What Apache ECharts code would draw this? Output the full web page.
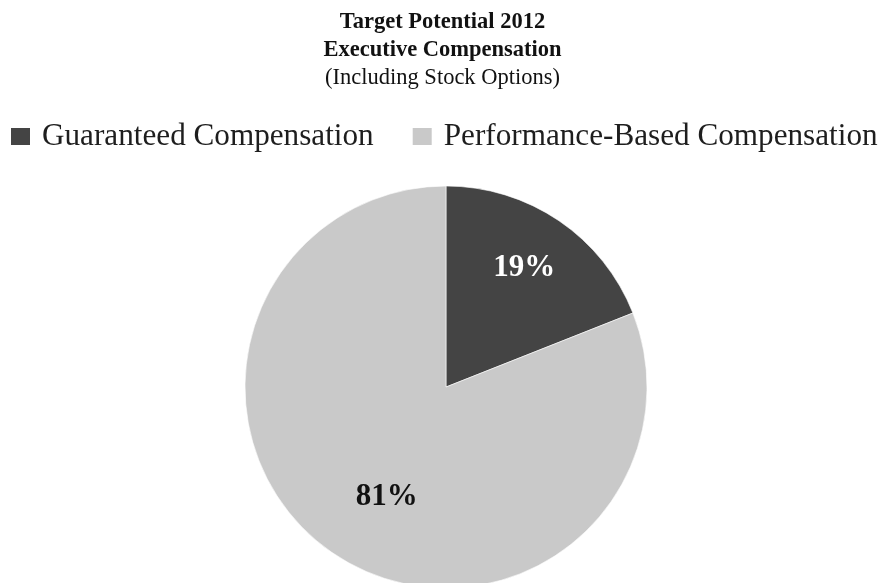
<!DOCTYPE html>
<html>
<head>
<meta charset="utf-8">
<script src="https://cdn.jsdelivr.net/npm/echarts@6/dist/echarts.min.js"></script>
<style>
html,body{margin:0;padding:0;background:#fff;}
#chart{width:885px;height:583px;}
</style>
</head>
<body>
<div id="chart"></div>
<script>
const titleLines = ['Target Potential 2012', 'Executive Compensation', '(Including Stock Options)'];
const categories = ['Guaranteed Compensation', 'Performance-Based Compensation'];
const values = [19, 81];
const colors = ['#444444', '#c9c9c9'];
const labelColors = ['#ffffff', '#111111'];
const labelShift = [[20, -33], [-1, 24]];

const chart = echarts.init(document.getElementById('chart'), null, {renderer: 'canvas'});
const FONT = '"Liberation Serif", "Times New Roman", serif';

chart.setOption({
  animation: false,
  backgroundColor: '#ffffff',
  title: {
    left: 'center',
    top: 3,
    text: '{b|' + titleLines[0] + '}\n{b|' + titleLines[1] + '}\n{n|' + titleLines[2] + '}',
    textStyle: {
      rich: {
        b: {fontFamily: FONT, fontSize: 22.5, fontWeight: 'bold', color: '#111', lineHeight: 28},
        n: {fontFamily: FONT, fontSize: 22.5, fontWeight: 'normal', color: '#111', lineHeight: 28}
      }
    }
  },
  legend: {
    left: 4,
    top: 116,
    width: 881,
    padding: 5,
    itemWidth: 21,
    itemHeight: 19,
    itemGap: 37,
    icon: 'rect',
    data: categories,
    textStyle: {fontFamily: FONT, fontSize: 31.2, color: '#1e1e1e', padding: [0, 0, 0, 6]}
  },
  series: [{
    type: 'pie',
    center: [446, 387],
    radius: [0, 201],
    startAngle: 90,
    clockwise: true,
    data: categories.map((c, i) => ({
      name: c,
      value: values[i],
      itemStyle: {color: colors[i]},
      label: {color: labelColors[i]}
    })),
    itemStyle: {borderColor: '#ffffff', borderWidth: 0.6},
    label: {
      show: true,
      position: 'inside',
      formatter: p => p.value + '%',
      fontFamily: FONT,
      fontSize: 31,
      fontWeight: 'bold'
    },
    labelLine: {show: false},
    emphasis: {disabled: true},
    labelLayout: p => ({dx: labelShift[p.dataIndex][0], dy: labelShift[p.dataIndex][1]})
  }]
});
</script>
</body>
</html>
